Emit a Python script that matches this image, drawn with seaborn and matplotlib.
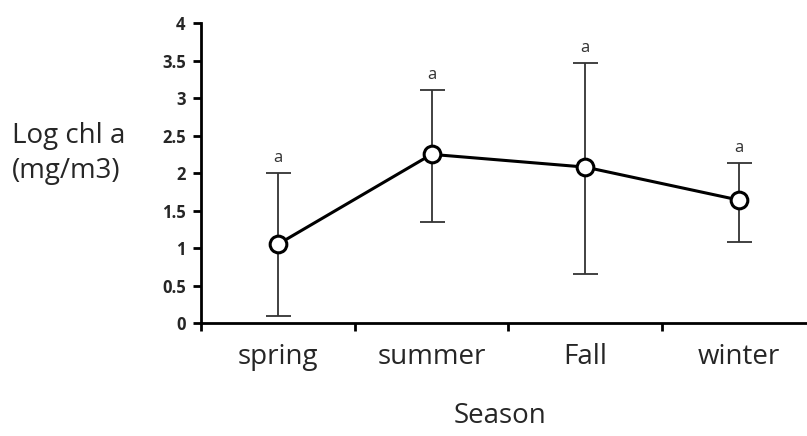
import pandas as pd
import seaborn as sns
import matplotlib.pyplot as plt
from matplotlib.ticker import FixedLocator

seasons = ["spring", "summer", "Fall", "winter"]
log_chl = [1.05, 2.25, 2.08, 1.64]
err_low = [0.09, 1.35, 0.65, 1.08]
err_high = [2.00, 3.11, 3.47, 2.13]
letters = ["a", "a", "a", "a"]

df = pd.DataFrame({"season": seasons, "chl": log_chl, "lo": err_low, "hi": err_high})

sns.set_style("white")
plt.rcParams['font.family'] = ['Open Sans', 'DejaVu Sans']

fig = plt.figure(figsize=(8.07, 4.36), dpi=100)
ax = fig.add_axes([0.249, 0.259, 0.762, 0.688])

pos = list(range(len(seasons)))
yerr = [df["chl"] - df["lo"], df["hi"] - df["chl"]]
ax.errorbar(pos, df["chl"], yerr=yerr, fmt="none", ecolor="#333333",
            elinewidth=1.3, capsize=9, capthick=1.3, zorder=1)

sns.lineplot(data=df, x="season", y="chl", ax=ax, color="black", linewidth=2.2,
             marker="o", markersize=12, markerfacecolor="white",
             markeredgecolor="black", markeredgewidth=2.2, zorder=3)

# significance letters above each bar
for i, (h, t) in enumerate(zip(df["hi"], letters)):
    ax.annotate(t, (i, h), xytext=(0, 8), textcoords="offset points",
                ha="center", va="baseline", fontsize=12, color="#333333")

ax.set_xlim(-0.5, 3.5)
ax.set_ylim(0, 4)
ax.set_yticks([0, 0.5, 1, 1.5, 2, 2.5, 3, 3.5, 4])
ax.set_yticklabels(["0", "0.5", "1", "1.5", "2", "2.5", "3", "3.5", "4"],
                   fontsize=12, fontweight="bold")
ax.set_xticks(pos)
ax.set_xticklabels(seasons, fontsize=20)
ax.xaxis.set_minor_locator(FixedLocator([-0.5, 0.5, 1.5, 2.5, 3.5]))
ax.tick_params(axis="x", which="major", length=0, pad=14)
ax.tick_params(axis="x", which="minor", length=6, width=2, direction="out", color="black")
ax.tick_params(axis="y", length=6, width=2, direction="out", color="black", pad=5)
ax.tick_params(axis="both", which="both", bottom=True, left=True)

for s in ["top", "right"]:
    ax.spines[s].set_visible(False)
for s in ["left", "bottom"]:
    ax.spines[s].set_linewidth(2)
    ax.spines[s].set_color("black")

ax.set_xlabel("")
ax.set_ylabel("")
fig.text(0.015, 0.672, "Log chl a", fontsize=20, ha="left", va="baseline")
fig.text(0.015, 0.592, "(mg/m3)", fontsize=20, ha="left", va="baseline")
fig.text(0.62, 0.03, "Season", fontsize=20, ha="center", va="baseline")

fig.savefig("out.png", dpi=100)
